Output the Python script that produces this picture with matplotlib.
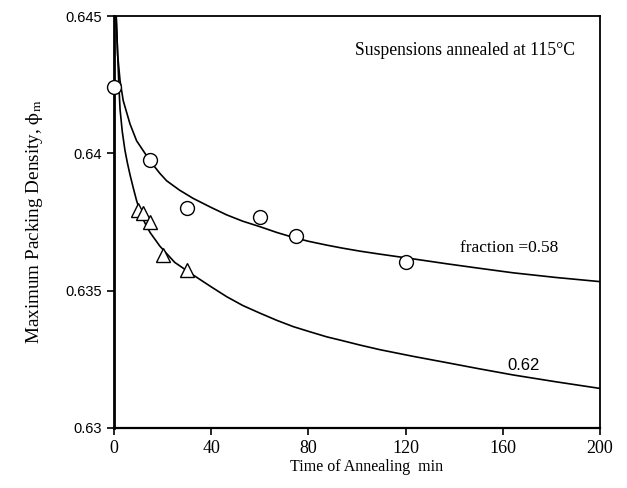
import matplotlib
matplotlib.use("Agg")
import matplotlib.pyplot as plt

# measured points
circle_t = [0, 15, 30, 60, 75, 120]
circle_phi = [0.6424, 0.63976, 0.63801, 0.63769, 0.63699, 0.63603]
tri_t = [10, 12, 15, 20, 30]
tri_phi = [0.63794, 0.63784, 0.63751, 0.63630, 0.63575]

# fitted curves
fit58_t = [0.9, 1.5, 2.5, 3.8, 6.6, 9.3, 14.8, 18.9, 21.7, 27, 32.6, 40, 46.4, 53,
           60.1, 67, 73.8, 80, 87.5, 94, 101.2, 109.5, 123, 136.9, 150, 164.3, 182, 200]
fit58_phi = [0.6450, 0.6436, 0.64264, 0.64192, 0.64107, 0.64046, 0.63973, 0.63927,
             0.63900, 0.63866, 0.63836, 0.63803, 0.63776, 0.63753, 0.63733, 0.63712,
             0.63694, 0.63680, 0.63666, 0.63655, 0.63644, 0.63633, 0.63616, 0.63598,
             0.63582, 0.63565, 0.63548, 0.63533]
fit62_t = [0.9, 1.4, 2.0, 2.5, 3.4, 4.5, 5.5, 6.6, 8.0, 9.3, 10.6, 12, 13.5, 15, 18.9,
           25, 32.6, 40, 46.4, 53, 60.1, 67, 73.8, 80, 87.5, 94, 101.2, 109.5, 123,
           136.9, 150, 164.3, 182, 200]
fit62_phi = [0.6450, 0.64386, 0.64250, 0.64160, 0.64080, 0.64012, 0.63966, 0.63922,
             0.63872, 0.63828, 0.63792, 0.63760, 0.63733, 0.63710, 0.63662, 0.63603,
             0.63557, 0.63514, 0.63478, 0.63446, 0.63418, 0.63392, 0.63369, 0.63352,
             0.63332, 0.63318, 0.63302, 0.63285, 0.63261, 0.63238, 0.63216, 0.63193,
             0.63168, 0.63144]

x_ticks = [0, 40, 80, 120, 160, 200]
y_ticks = [0.63, 0.635, 0.64, 0.645]
y_ticklabels = ["0.63", "0.635", "0.64", "0.645"]

plt.rcParams['mathtext.fontset'] = 'stix'
serif = ['Liberation Serif', 'DejaVu Serif']
sans = ['Liberation Sans', 'DejaVu Sans']

fig = plt.figure(figsize=(6.27, 4.88), dpi=100)
ax = fig.add_axes([0.1818, 0.123, 0.7752, 0.844])

ax.plot(fit58_t, fit58_phi, color='black', lw=1.2, zorder=2, solid_joinstyle='round')
ax.plot(fit62_t, fit62_phi, color='black', lw=1.2, zorder=2, solid_joinstyle='round')
ax.plot(tri_t, tri_phi, linestyle='none', marker='^', ms=10, mfc='white',
        mec='black', mew=1.0, zorder=3, clip_on=False)
ax.plot(circle_t, circle_phi, linestyle='none', marker='o', ms=10, mfc='white',
        mec='black', mew=1.0, zorder=4, clip_on=False)

ax.set_xlim(0, 200)
ax.set_ylim(0.63, 0.645)
ax.set_xticks(x_ticks)
ax.set_xticklabels([str(v) for v in x_ticks], family=serif, fontsize=13)
ax.set_yticks(y_ticks)
ax.set_yticklabels(y_ticklabels, family=sans, fontsize=10.5)
ax.tick_params(axis='both', direction='out', length=5, width=1.2, colors='black')
ax.tick_params(axis='x', pad=4)

for s in ax.spines.values():
    s.set_linewidth(1.3)
ax.spines['left'].set_linewidth(2.0)
ax.spines['bottom'].set_linewidth(1.6)

ax.set_xlabel('Time of Annealing  min', family=serif, fontsize=11.5, labelpad=3)
ax.xaxis.set_label_coords(0.52, -0.075)
ax.set_ylabel(r'Maximum Packing Density, $\mathrm{\phi}_{\mathrm{m}}$', family=serif,
              fontsize=13.8, labelpad=15)

ax.text(99, 0.64376, 'Suspensions annealed at 115°C', family=serif, fontsize=12.7,
        va='center', ha='left')
ax.text(142.4, 0.63655, 'fraction =0.58', family=serif, fontsize=12.5, va='center', ha='left')
ax.text(162, 0.63229, '0.62', family=sans, fontsize=12, va='center', ha='left')

fig.savefig('out.png', dpi=100)
